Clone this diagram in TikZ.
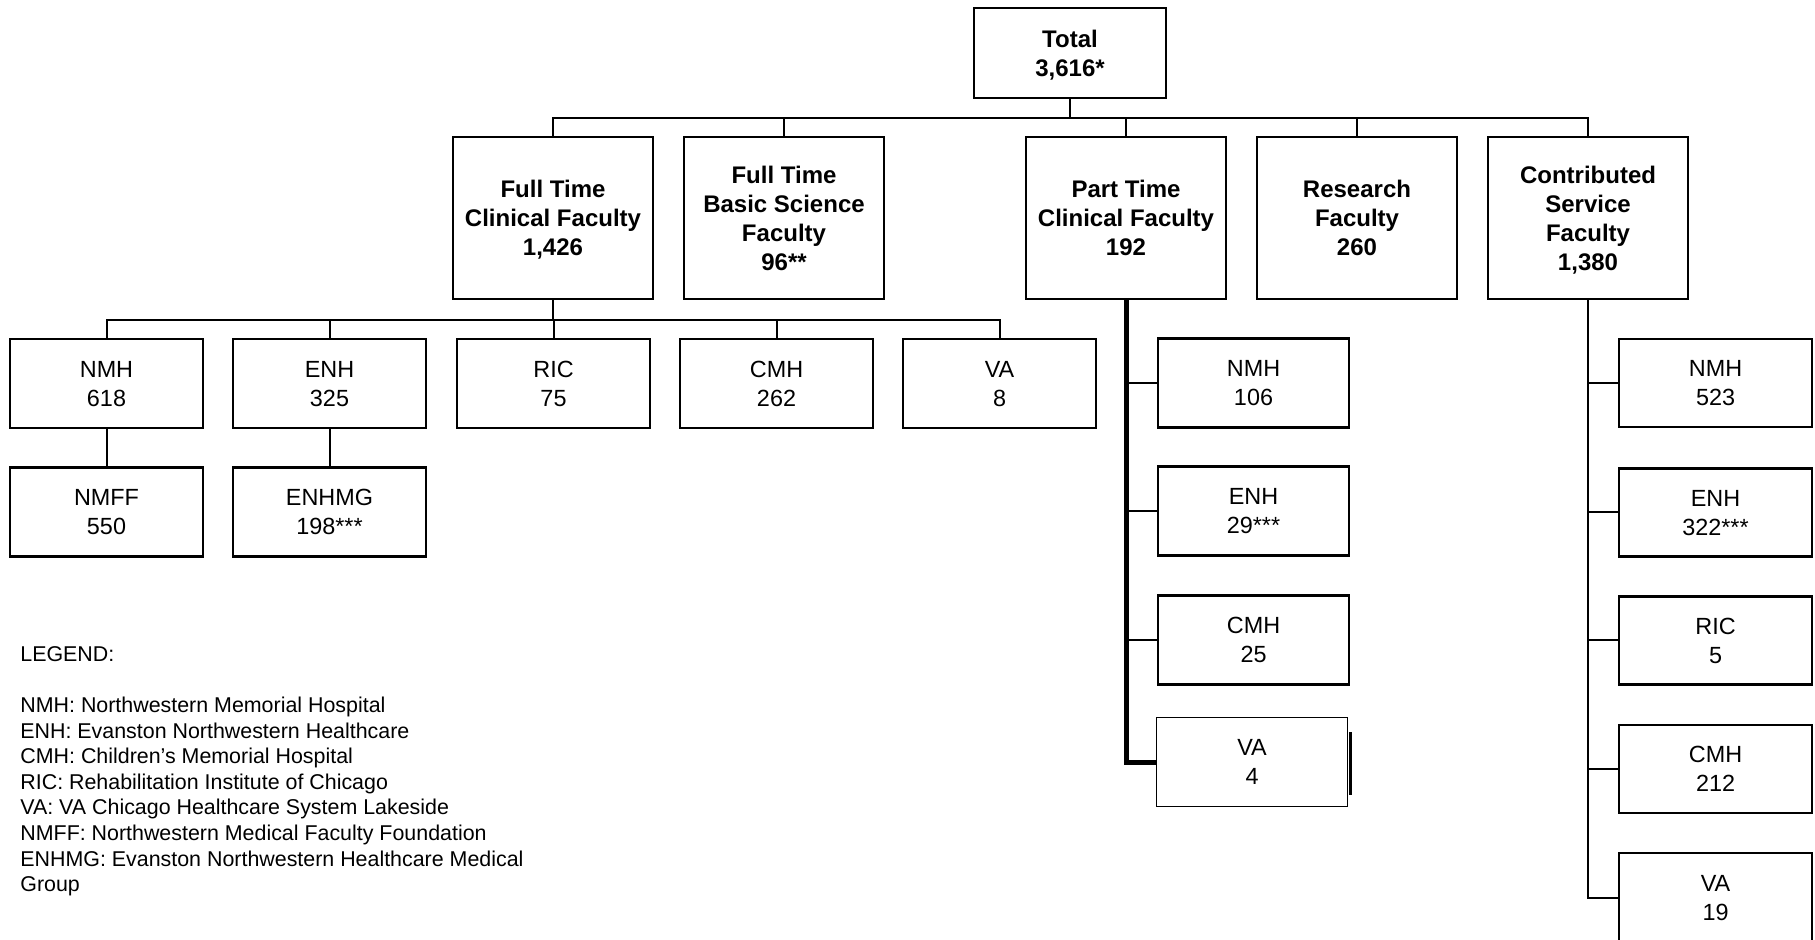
\documentclass[tikz,border=0pt]{standalone}
\usepackage{fontspec}
\setmainfont{Liberation Sans}
\begin{document}
\begin{tikzpicture}[x=0.5pt,y=-0.5pt]
        \tikzstyle{head}=[draw,line width=1.1pt,align=center,inner sep=0pt,minimum width=100pt,minimum height=81pt,text depth=-4pt,font=\fontsize{12}{14.5}\selectfont\bfseries]
        \tikzstyle{unit}=[draw,line width=1.1pt,align=center,inner sep=0pt,minimum width=96.5pt,minimum height=44.5pt,text depth=-2.3pt,font=\fontsize{11.7}{14.5}\selectfont]
        \tikzstyle{legend}=[align=left,inner sep=0pt,anchor=north west,font=\fontsize{10.7}{12.8}\selectfont]
        \tikzstyle{edge}=[draw,line width=1pt]
        \tikzstyle{branch}=[draw,line width=0.75pt]
        \tikzstyle{trunk}=[draw,line width=2.5pt]
        \useasboundingbox (0,0) rectangle (1815,940);
       \begin{scope}
         % top level
         \node [head,minimum width=96pt,minimum height=45pt] (total) at (1070,53) {Total\\3,616*};
         \node [head] (ftc)  at (553,218)  {Full Time\\Clinical Faculty\\1,426};
         \node [head] (ftbs) at (784,218)  {Full Time\\Basic Science\\Faculty\\96**};
         \node [head] (ptc)  at (1126,218) {Part Time\\Clinical Faculty\\192};
         \node [head] (rf)   at (1357,218) {Research\\Faculty\\260};
         \node [head] (csf)  at (1588,218) {Contributed\\Service\\Faculty\\1,380};
         \path[edge] (total.south) -- ++(0,19) -| (ftc.north);
         \path[edge] (total.south) -- ++(0,19) -| (ftbs.north);
         \path[edge] (total.south) -- ++(0,19) -| (ptc.north);
         \path[edge] (total.south) -- ++(0,19) -| (rf.north);
         \path[edge] (total.south) -- ++(0,19) -| (csf.north);
         % full time clinical
         \node [unit] (ftnmh)   at (106.5,383.5) {NMH\\618};
         \node [unit] (ftenh)   at (329.5,383.5) {ENH\\325};
         \node [unit] (ftric)   at (553.5,383.5) {RIC\\75};
         \node [unit] (ftcmh)   at (776.5,383.5) {CMH\\262};
         \node [unit] (ftva)    at (999.5,383.5) {VA\\8};
         \node [unit] (ftnmff)  at (106.5,512)   {NMFF\\550};
         \node [unit] (ftenhmg) at (329.5,512)   {ENHMG\\198***};
         \path[edge] (ftc.south) -- ++(0,20) -| (ftnmh.north);
         \path[edge] (ftc.south) -- ++(0,20) -| (ftenh.north);
         \path[edge] (ftc.south) -- ++(0,20) -| (ftric.north);
         \path[edge] (ftc.south) -- ++(0,20) -| (ftcmh.north);
         \path[edge] (ftc.south) -- ++(0,20) -| (ftva.north);
         \path[edge] (ftnmh.south) -- (ftnmff.north);
         \path[edge] (ftenh.south) -- (ftenhmg.north);
         % part time clinical
         \node [unit,minimum width=95.5pt] (ptnmh) at (1253.5,383) {NMH\\106};
         \node [unit,minimum width=95.5pt] (ptenh) at (1253.5,511) {ENH\\29***};
         \node [unit,minimum width=95.5pt] (ptcmh) at (1253.5,640) {CMH\\25};
         \node [unit,minimum width=95.5pt,line width=0.9pt] (ptva) at (1252,762) {VA\\4};
         \path[trunk] (ptc.south) |- (ptva.west);
         \path[branch] (ptc.south) |- (ptnmh.west);
         \path[branch] (ptc.south) |- (ptenh.west);
         \path[branch] (ptc.south) |- (ptcmh.west);
         \draw[line width=1.2pt] ([xshift=1.1pt,yshift=15pt]ptva.east) -- ([xshift=1.1pt,yshift=-16.5pt]ptva.east);
         % contributed service
         \node [unit,minimum height=44pt] (csnmh) at (1715.5,383)   {NMH\\523};
         \node [unit,minimum height=44pt] (csenh) at (1715.5,512.5) {ENH\\322***};
         \node [unit,minimum height=44pt] (csric) at (1715.5,640.5) {RIC\\5};
         \node [unit,minimum height=44pt] (cscmh) at (1715.5,769)   {CMH\\212};
         \node [unit,minimum height=45pt] (csva)  at (1715.5,898)   {VA\\19};
         \path[edge] (csf.south) |- (csnmh.west);
         \path[edge] (csf.south) |- (csenh.west);
         \path[edge] (csf.south) |- (csric.west);
         \path[edge] (csf.south) |- (cscmh.west);
         \path[edge] (csf.south) |- (csva.west);
         % legend
         \node [legend] (key) at (20,646) {LEGEND:\\[12.8pt]
           NMH: Northwestern Memorial Hospital\\
           ENH: Evanston Northwestern Healthcare\\
           CMH: Children’s Memorial Hospital\\
           RIC: Rehabilitation Institute of Chicago\\
           VA: VA Chicago Healthcare System Lakeside\\
           NMFF: Northwestern Medical Faculty Foundation\\
           ENHMG: Evanston Northwestern Healthcare Medical\\
           Group};
        \end{scope}
      \end{tikzpicture}
\end{document}
